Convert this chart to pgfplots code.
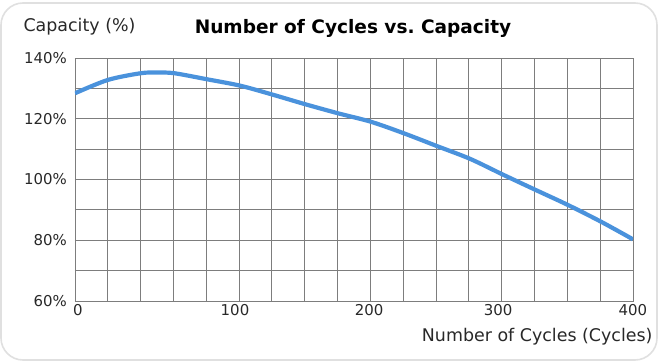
\documentclass[border=0pt]{standalone}
\usepackage{pgfplots}
\pgfplotsset{compat=1.18}
\usepackage{fontspec}
\setmainfont{DejaVu Sans}
\definecolor{curve}{RGB}{74,146,220}
\definecolor{gridc}{RGB}{125,125,125}
\definecolor{txt}{RGB}{40,40,40}
\begin{document}
\begin{tikzpicture}
\useasboundingbox (-75bp,-61bp) rectangle (585bp,301bp);
\draw[black!12, line width=1.6bp, rounded corners=22bp, fill=white] (-74bp,-59bp) rectangle (582bp,298bp);
\begin{axis}[
  scale only axis, width=558bp, height=243bp, at={(0,0)}, anchor=south west,
  xmin=0, xmax=400, ymin=60, ymax=140,
  xtick={2,114.7,210.8,303.4,400}, xticklabels={0,100,200,300,400},
  minor xtick={23.53,47.06,70.59,94.12,117.65,141.18,164.71,188.24,211.76,235.29,258.82,282.35,305.88,329.41,352.94,376.47},
  ytick={60,80,100,120,140}, yticklabels={60\%,80\%,100\%,120\%,140\%},
  minor ytick={70,90,110,130},
  xmajorgrids=false, xminorgrids=true, ymajorgrids=true, yminorgrids=true,
  major tick length=0, minor tick length=0,
  grid style={line width=0.9bp, gridc},
  minor grid style={line width=0.9bp, gridc},
  axis line style={line width=0.9bp, gridc},
  /pgf/number format/assume math mode=true,
  tick label style={font=\fontsize{15}{15}\selectfont, color=txt},
  xticklabel style={inner sep=0pt, yshift=-3bp},
  yticklabel style={inner sep=0pt, xshift=-8bp},
]
\addplot[color=curve, line width=4.2bp, smooth, tension=0.5] coordinates {
(0,128.4) (23.7,132.8) (47.3,135.0) (58.8,135.2) (71.0,135.0) (94.6,133.0)
(118.3,130.9) (141.2,128.0) (164.9,124.8) (188.5,121.8) (212.2,119.0)
(235.8,115.2) (259.5,111.0) (283.2,106.8) (306.8,101.6) (330.5,96.5)
(353.4,91.6) (377.1,86.1) (400,80.3)
};
\end{axis}
\node[anchor=west, font=\fontsize{17.5}{17.5}\selectfont, color=txt] at (-55bp,274bp) {Capacity (\%)};
\node[font=\bfseries\fontsize{18.6}{18.6}\selectfont, color=black] at (278bp,273bp) {Number of Cycles vs.\ Capacity};
\node[anchor=east, font=\fontsize{17.5}{17.5}\selectfont, color=txt] at (581bp,-36bp) {Number of Cycles (Cycles)};
\end{tikzpicture}
\end{document}
